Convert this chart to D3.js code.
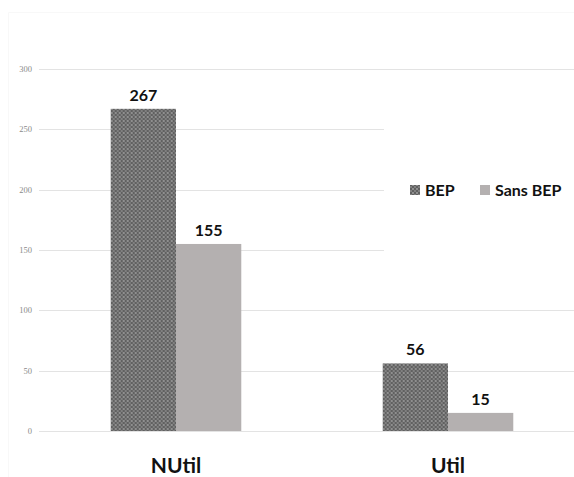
<!DOCTYPE html>
<html>
<head>
<meta charset="utf-8">
<script src="https://cdn.jsdelivr.net/npm/d3@7"></script>
<style type="text/css">
body {
	margin: 0;
	background: #fff;
	overflow: hidden;
}
svg {
	display: block;
}
.tick-label {
	font-family: "Liberation Serif", "DejaVu Serif", serif;
	font-size: 8.5px;
	fill: #8a8a8a;
}
.value-label {
	font-family: Lato, "Open Sans", sans-serif;
	font-weight: bold;
	font-size: 16px;
	fill: #111;
}
.cat-label {
	font-family: Lato, "Open Sans", sans-serif;
	font-weight: bold;
	font-size: 21px;
	fill: #111;
}
.legend-label {
	font-family: Lato, "Open Sans", sans-serif;
	font-weight: bold;
	font-size: 16px;
	fill: #111;
}
</style>
</head>
<body>
<div id="chart"></div>
<script type="text/javascript">
// data
var categories = ["NUtil", "Util"];
var seriesNames = ["BEP", "Sans BEP"];
var bepValues = [267, 56];
var sansBepValues = [155, 15];
var yTicks = [0, 50, 100, 150, 200, 250, 300];

var width = 574, height = 477;

var svg = d3.select("#chart").append("svg")
	.attr("width", width)
	.attr("height", height);

// textured fill for the BEP series
var defs = svg.append("defs");
var pat = defs.append("pattern")
	.attr("id", "bepPattern")
	.attr("patternUnits", "userSpaceOnUse")
	.attr("width", 4).attr("height", 4);
pat.append("rect").attr("width", 4).attr("height", 4).attr("fill", "#606060");
pat.append("circle").attr("cx", 1).attr("cy", 1).attr("r", 0.9).attr("fill", "#a6a6a6");
pat.append("circle").attr("cx", 3).attr("cy", 3).attr("r", 0.9).attr("fill", "#909090");

// faint top/left edge of the chart area
svg.append("path")
	.attr("d", "M8.5," + height + "V12.5H" + width)
	.attr("fill", "none")
	.attr("stroke", "#f8f8f8");

var x0 = d3.scaleBand()
	.domain(categories)
	.range([40, 584])
	.paddingInner(0.52)
	.paddingOuter(0.26);

var x1 = d3.scaleBand()
	.domain(seriesNames)
	.range([0, x0.bandwidth()]);

var y = d3.scaleLinear()
	.domain([0, 300])
	.range([431, 69]);

var color = {"BEP": "url(#bepPattern)", "Sans BEP": "#b4b0b0"};

// gridlines
svg.append("g").selectAll("line")
	.data(yTicks).enter().append("line")
	.attr("x1", 39).attr("x2", width)
	.attr("y1", function(d){ return Math.round(y(d)) + 0.5; })
	.attr("y2", function(d){ return Math.round(y(d)) + 0.5; })
	.attr("stroke", "#e3e3e3")
	.attr("stroke-width", 1.2);

svg.append("g").selectAll("text")
	.data(yTicks).enter().append("text")
	.attr("class", "tick-label")
	.attr("x", 32)
	.attr("y", function(d){ return y(d) + 3; })
	.attr("text-anchor", "end")
	.text(function(d){ return d; });

// legend sits on a white box which hides part of the grid
var lg = svg.append("g");
lg.append("rect")
	.attr("x", 384).attr("y", 110)
	.attr("width", width - 384).attr("height", 160)
	.attr("fill", "#fff");
var legendItems = [
	{name: seriesNames[0], x: 410},
	{name: seriesNames[1], x: 480}
];
lg.selectAll("rect.sw").data(legendItems).enter().append("rect")
	.attr("class", "sw")
	.attr("x", function(d){ return d.x; })
	.attr("y", 185)
	.attr("width", 10).attr("height", 10)
	.attr("fill", function(d){ return color[d.name]; });
lg.selectAll("text").data(legendItems).enter().append("text")
	.attr("class", "legend-label")
	.attr("x", function(d){ return d.x + 15; })
	.attr("y", 196)
	.text(function(d){ return d.name; });

// bars
var rows = categories.map(function(c, i){
	return {cat: c, values: [
		{name: seriesNames[0], value: bepValues[i]},
		{name: seriesNames[1], value: sansBepValues[i]}
	]};
});

var groups = svg.append("g").selectAll("g")
	.data(rows).enter().append("g")
	.attr("transform", function(d){ return "translate(" + x0(d.cat) + ",0)"; });

groups.selectAll("rect")
	.data(function(d){ return d.values; }).enter().append("rect")
	.attr("x", function(d){ return x1(d.name); })
	.attr("y", function(d){ return y(d.value); })
	.attr("width", x1.bandwidth())
	.attr("height", function(d){ return y(0) - y(d.value); })
	.attr("fill", function(d){ return color[d.name]; });

groups.selectAll("text")
	.data(function(d){ return d.values; }).enter().append("text")
	.attr("class", "value-label")
	.attr("x", function(d){ return x1(d.name) + x1.bandwidth() / 2; })
	.attr("y", function(d){ return y(d.value) - 8; })
	.attr("text-anchor", "middle")
	.text(function(d){ return d.value; });

// category labels
svg.append("g").selectAll("text")
	.data(categories).enter().append("text")
	.attr("class", "cat-label")
	.attr("x", function(d){ return x0(d) + x0.bandwidth() / 2; })
	.attr("y", 473)
	.attr("text-anchor", "middle")
	.text(function(d){ return d; });
</script>
</body>
</html>
